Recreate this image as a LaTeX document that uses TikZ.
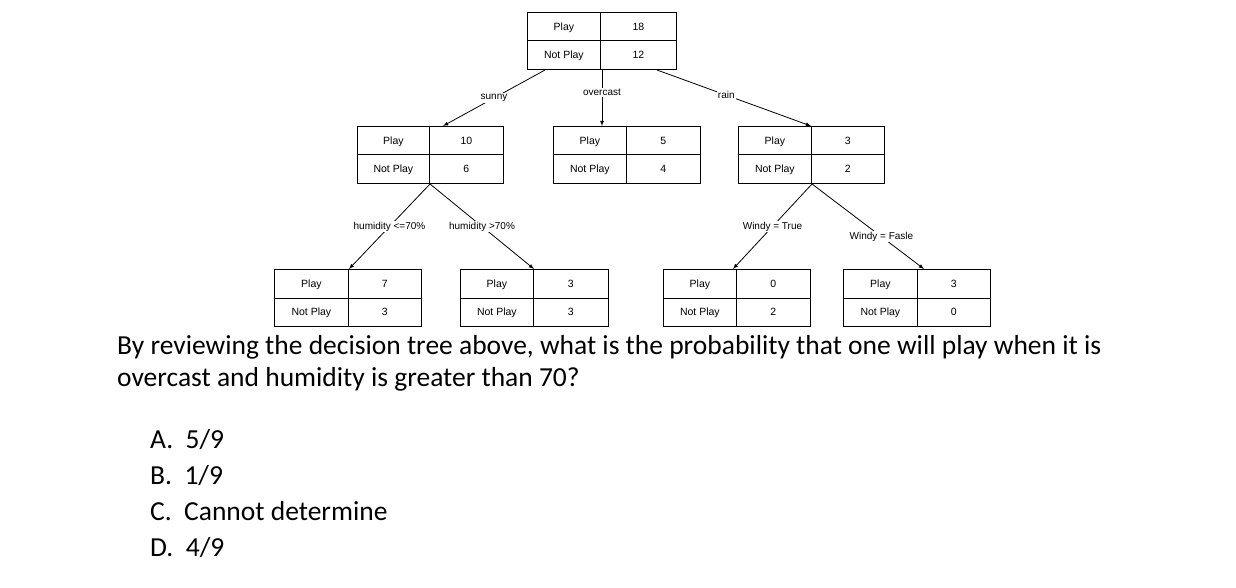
\documentclass[tikz,border=0pt]{standalone}
\usepackage{fontspec}
\setmainfont{Liberation Sans}
\newfontfamily\qfont{Carlito}
\begin{document}
\begin{tikzpicture}[x=1pt,y=-1pt,
  cell/.style={draw,line width=0.8pt,minimum height=28.5pt,inner sep=0pt,text height=7.5pt,text depth=0pt,font=\fontsize{10.5}{12}\selectfont,anchor=north west},
  lab/.style={fill=white,inner sep=1pt,font=\fontsize{10}{11}\selectfont},
  arr/.style={draw,line width=0.8pt,-latex}]
\useasboundingbox (0,0) rectangle (1236,588);
\def\mk#1#2#3#4#5#6#7{%
  \node[cell,minimum width=#3-#2] (#1a) at (#2,#5) {Play};
  \node[cell,minimum width=#4-#3] (#1b) at (#3,#5) {#6};
  \node[cell,minimum width=#3-#2] (#1c) at (#2,#5+28.5) {Not Play};
  \node[cell,minimum width=#4-#3] (#1d) at (#3,#5+28.5) {#7};
}
\mk{r}{527}{600}{676}{12}{18}{12}
\mk{s}{357}{429}{503}{126}{10}{6}
\mk{o}{553}{626}{700}{126}{5}{4}
\mk{n}{738}{811}{884}{126}{3}{2}
\mk{p}{274}{348}{421}{269}{7}{3}
\mk{q}{460}{533}{608}{269}{3}{3}
\mk{t}{663}{736}{810}{269}{0}{2}
\mk{u}{843}{917}{990}{269}{3}{0}
% edges
\coordinate (rs) at (545,70); \coordinate (se) at (443,126);
\coordinate (ro) at (602,70); \coordinate (oe) at (602,126);
\coordinate (rr) at (657,70); \coordinate (ne) at (811,126);
\draw[arr] (rs) -- node[lab,pos=0.5] {sunny} (se);
\draw[arr] (ro) -- node[lab,pos=0.4] {overcast} (oe);
\draw[arr] (rr) -- node[lab,pos=0.45] {rain} (ne);
\coordinate (sb) at (430,184); \coordinate (pe) at (349,269); \coordinate (qe) at (534,269);
\draw[arr] (sb) -- node[lab,pos=0.5] {humidity <=70\%} (pe);
\draw[arr] (sb) -- node[lab,pos=0.5] {humidity >70\%} (qe);
\coordinate (nb) at (812,184); \coordinate (te) at (733,269); \coordinate (ue) at (924,269);
\draw[arr] (nb) -- node[lab,pos=0.5] {Windy = True} (te);
\draw[arr] (nb) -- node[lab,pos=0.62] {Windy = Fasle} (ue);
% question
\node[anchor=north west,inner sep=0pt,align=left,font=\qfont\fontsize{27.5}{32.5}\selectfont] (qtext) at (117,335)
 {By reviewing the decision tree above, what is the probability that one will play when it is\\overcast and humidity is greater than 70?};
\node[anchor=north west,inner sep=0pt,align=left,font=\qfont\fontsize{27.5}{36}\selectfont] (opts) at (150,429)
 {A.\ \ 5/9\\B.\ \ 1/9\\C.\ \ Cannot determine\\D.\ \ 4/9};
\end{tikzpicture}
\end{document}
